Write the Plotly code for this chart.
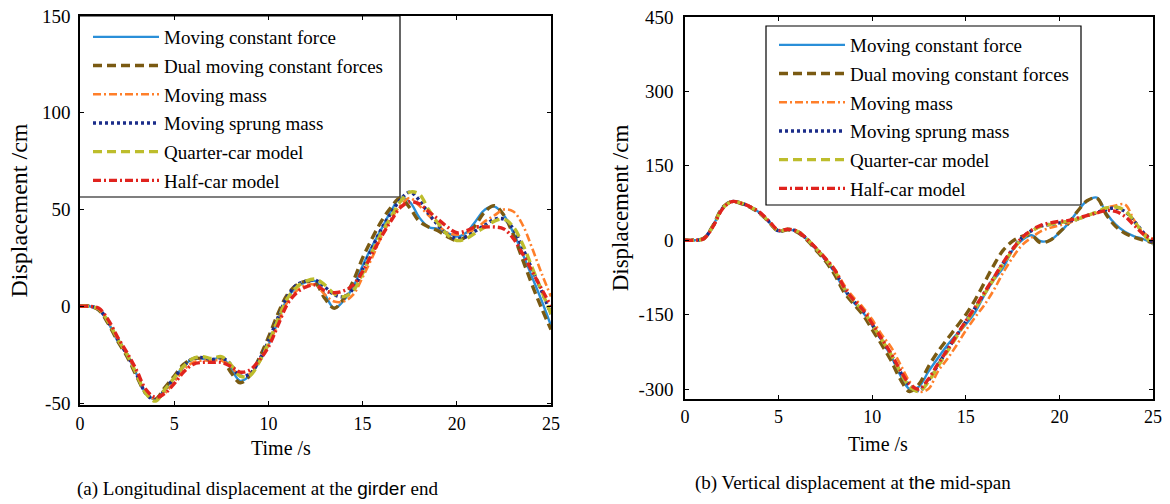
import plotly.graph_objects as go

W, H = 1170, 504

time_s = [i * 0.5 for i in range(51)]

series_names = ["Moving constant force", "Dual moving constant forces", "Moving mass",
                "Moving sprung mass", "Quarter-car model", "Half-car model"]

# (a) Longitudinal displacement at the girder end (cm)
a_mcf = [0,0,-2,-8.5,-18,-25,-35,-45,-48,-43,-37,-31,-27,-27,-28,-26,-32,-38.5,-36,-29,-20,-8,4,10,12.5,13,6,-1,3,10,21,31,40,49,56,54,46,41,40,38,36,38,44,50,51.5,47,38,27,15,3,-10]
a_dual = [0,0,-2,-9,-18,-26,-36,-45,-48,-42,-36,-30,-27,-27,-28,-27,-34,-39.5,-36,-27,-16,-4,6,11,13,12,4,-1,4,13,25,35,44,51,56,51,44,41,39,36,34,36,42,49,52,47,37,24,11,-1,-12]
a_mass = [0,0,-1.5,-8,-17,-25,-34,-44,-48,-45,-39,-33,-29,-28,-28,-28,-31,-36,-35,-29,-20,-9,2,8,11,11,6,2.5,2.5,6,15,25,36,45,52,56,52,47,42,38,37,38,40,44,47,50,49,42,30,17,5]
a_sprung = [0,0,-1.5,-8,-17,-25,-35,-45,-48.5,-43,-37,-31,-27,-26.5,-27.5,-26.5,-30,-36,-35,-28,-18,-6,5,11,13,13.5,10,6,5,9,19,30,40,48,55,59,55,48,42,37,35,36,39,42,45,45,40,30,19,8,-4]
a_quarter = [0,0,-1.5,-8,-17,-25,-35,-45,-49,-43,-37,-31,-27,-26,-27,-26,-30,-36,-36,-29,-19,-7,4,10,13,14,11,6.5,5,8,17,28,38,46,54,59,58,50,43,37,34,35,38,41,44,45,41,32,20,8,-4]
a_half = [0,0,-1,-7,-16,-24,-33,-43,-47,-45,-40,-34,-30,-29,-29,-29,-31,-34,-33,-28,-21,-10,1,7,10,11,8,7,8,11,18,27,36,44,51,54,53,49,45,41,38,39,41,41,41,40,35,27,18,9,0]

# (b) Vertical displacement at the mid-span (cm)
b_mcf = [0,0,4,30,65,78,74,67,55,36,18,22,17,2,-18,-40,-65,-100,-125,-145,-172,-202,-233,-272,-300,-295,-265,-238,-212,-190,-170,-145,-110,-80,-55,-20,0,10,-2,0,15,35,60,80,86,55,32,17,8,2,-7]
b_dual = [0,0,4,30,66,78,74,66,54,36,18,21,16,1,-20,-42,-70,-105,-128,-150,-180,-210,-242,-280,-305,-290,-255,-225,-200,-175,-150,-120,-85,-50,-20,-2,8,10,-5,0,16,35,60,80,85,52,28,14,6,0,-5]
b_mass = [0,0,3,28,63,78,75,67,56,38,20,23,19,4,-15,-35,-58,-90,-115,-135,-160,-190,-215,-250,-285,-305,-300,-265,-240,-212,-182,-155,-130,-100,-65,-35,-10,5,18,25,30,35,42,50,55,65,70,72,40,15,3]
b_sprung = [0,0,3,29,64,78,75,67,55,37,19,22,18,3,-17,-38,-62,-97,-122,-142,-170,-200,-230,-265,-293,-303,-283,-252,-222,-193,-164,-136,-106,-76,-46,-18,5,19,28,32,35,38,43,50,56,62,65,58,38,15,-5]
b_quarter = [0,0,3,29,64,78,75,67,55,37,19,22,18,3,-17,-38,-62,-97,-122,-142,-170,-200,-230,-265,-295,-305,-285,-255,-225,-195,-165,-138,-108,-78,-48,-20,3,18,28,32,36,38,43,50,57,65,67,60,38,12,-10]
b_half = [0,0,3,28,63,78,75,67,56,38,20,22,18,3,-16,-37,-60,-95,-120,-140,-168,-198,-228,-262,-290,-300,-280,-250,-222,-192,-163,-135,-105,-75,-45,-18,5,20,30,35,38,40,45,50,55,60,58,48,30,12,0]

x_ticks = [0, 5, 10, 15, 20, 25]
x_ticktext = ["0", "5", "10", "15", "20", "25"]
a_yticks = [-50, 0, 50, 100, 150]
a_yticktext = ["-50", "0", "50", "100", "150"]
b_yticks = [-300, -150, 0, 150, 300, 450]
b_yticktext = ["-300", "-150", "0", "150", "300", "450"]

styles = [
    dict(color="#2a8fd8", width=2.4, dash="solid"),
    dict(color="#7a5a12", width=3.4, dash="9px,5px"),
    dict(color="#ff7f2a", width=2.6, dash="8px,3px,2px,3px"),
    dict(color="#1b2d8a", width=3.4, dash="3px,3px"),
    dict(color="#bdbd2c", width=3.4, dash="9px,5px"),
    dict(color="#e0231e", width=3.4, dash="8px,3px,2px,3px"),
]

SERIF = "Liberation Serif"

fig = go.Figure()

a_data = [a_mcf, a_dual, a_mass, a_sprung, a_quarter, a_half]
b_data = [b_mcf, b_dual, b_mass, b_sprung, b_quarter, b_half]

for i, (name, ys) in enumerate(zip(series_names, a_data)):
    fig.add_trace(go.Scatter(x=time_s, y=ys, name=name, mode="lines",
                             line=dict(shape="spline", smoothing=1.0, **styles[i]),
                             xaxis="x", yaxis="y", legend="legend", legendgroup="a%d" % i))
for i, (name, ys) in enumerate(zip(series_names, b_data)):
    fig.add_trace(go.Scatter(x=time_s, y=ys, name=name, mode="lines",
                             line=dict(shape="spline", smoothing=1.0, **styles[i]),
                             xaxis="x2", yaxis="y2", legend="legend2", legendgroup="b%d" % i))

# page body margin is removed below, so screen pixels map directly to the figure
OFF = 0

def px(x):
    return (x - OFF) / W

def py(y):
    return 1 - (y - OFF) / H

axis_common = dict(showline=True, linecolor="black", linewidth=1.5, mirror="ticks",
                   ticks="inside", ticklen=4, tickcolor="black", showgrid=False,
                   zeroline=False, automargin=False, ticklabeloverflow="allow")

xtick_font = dict(family=SERIF, size=18, color="black")
ytick_font = dict(family=SERIF, size=19, color="black")
title_font = dict(family=SERIF, size=20, color="black")
legend_font = dict(family=SERIF, size=19, color="black")
cap_font = dict(family=SERIF, size=19, color="black")

fig.update_layout(
    template="none",
    width=W, height=H,
    margin=dict(l=0, r=0, t=0, b=0, pad=0),
    paper_bgcolor="white", plot_bgcolor="white",
    showlegend=True,
    xaxis=dict(domain=[px(80), px(551)], range=[0, 25], tickvals=x_ticks, ticktext=x_ticktext,
               anchor="y", tickfont=xtick_font, ticklabelstandoff=2, **axis_common),
    yaxis=dict(domain=[py(405), py(16)], range=[-51, 150], tickvals=a_yticks, ticktext=a_yticktext,
               anchor="x", tickfont=ytick_font, ticklabelstandoff=4,
               title=dict(text="Displacement /cm", font=dict(family=SERIF, size=24, color="black"), standoff=8),
               **axis_common),
    xaxis2=dict(domain=[px(685), px(1153)], range=[0, 25], tickvals=x_ticks, ticktext=x_ticktext,
                anchor="y2", tickfont=xtick_font, ticklabelstandoff=1, **axis_common),
    yaxis2=dict(domain=[py(399), py(17)], range=[-320, 450], tickvals=b_yticks, ticktext=b_yticktext,
                anchor="x2", tickfont=ytick_font, ticklabelstandoff=6,
                title=dict(text="Displacement /cm", font=dict(family=SERIF, size=23, color="black"), standoff=4),
                **axis_common),
    legend=dict(x=px(88), y=py(18), xanchor="left", yanchor="top", bgcolor="rgba(0,0,0,0)",
                borderwidth=0, font=legend_font, tracegroupgap=1, itemwidth=66),
    legend2=dict(x=px(774), y=py(26), xanchor="left", yanchor="top", bgcolor="rgba(0,0,0,0)",
                 borderwidth=0, font=legend_font, tracegroupgap=1, itemwidth=66),
    shapes=[
        dict(type="rect", xref="paper", yref="paper", x0=px(79), x1=px(400), y0=py(197), y1=py(16),
             line=dict(color="black", width=1.2), fillcolor="white", layer="below"),
        dict(type="rect", xref="paper", yref="paper", x0=px(766), x1=px(1081), y0=py(205), y1=py(26),
             line=dict(color="black", width=1.2), fillcolor="white", layer="below"),
    ],
    annotations=[
        dict(text="Time /s", xref="paper", yref="paper", x=px(281), y=py(448), showarrow=False,
             xanchor="center", yanchor="middle", font=title_font),
        dict(text="Time /s", xref="paper", yref="paper", x=px(878), y=py(444), showarrow=False,
             xanchor="center", yanchor="middle", font=title_font),
        dict(text='(a) Longitudinal displacement at the <span style="font-family:Liberation Sans">girder</span> end',
             xref="paper", yref="paper", x=px(257), y=py(489), showarrow=False,
             xanchor="center", yanchor="middle", font=cap_font),
        dict(text='(b) Vertical displacement at <span style="font-family:Liberation Sans">the</span> mid-span',
             xref="paper", yref="paper", x=px(853), y=py(483), showarrow=False,
             xanchor="center", yanchor="middle", font=cap_font),
    ],
)

fig.write_html("out.html", config={"displayModeBar": False},
               post_script="document.body.style.margin='0px';")
